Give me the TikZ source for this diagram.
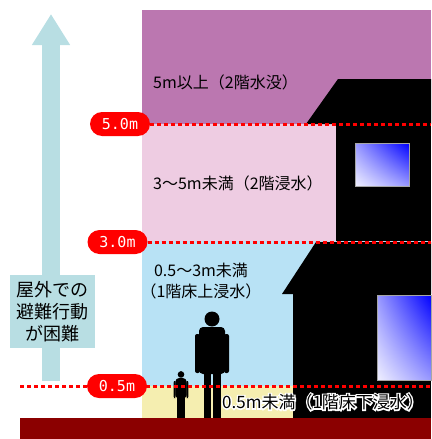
\documentclass[tikz,border=0pt]{standalone}
\usepackage{fontspec}
\setmainfont{Noto Sans CJK JP}
\newfontfamily\monofont{DejaVu Sans Mono}
\usetikzlibrary{arrows.meta,shadings}

\definecolor{bandtop}{RGB}{187,119,176}
\definecolor{bandhigh}{RGB}{238,204,226}
\definecolor{bandmid}{RGB}{184,226,245}
\definecolor{bandlow}{RGB}{245,238,176}
\definecolor{groundred}{RGB}{139,0,0}
\definecolor{arrowblue}{RGB}{184,222,227}

% stroked white outline behind a label
\newcommand\outlined[1]{\special{pdf:literal direct 1 Tr 2.8 w 1 1 1 RG}#1\special{pdf:literal direct 0 Tr}}

\begin{document}
\begin{tikzpicture}[
    x=1pt, y=-1pt,
    level/.style={
        red,
        line width=3pt,
        dash pattern=on 4pt off 3pt
    },
    tag/.style={
        fill=red,
        text=white,
        rounded corners=12pt,
        minimum width=60pt,
        minimum height=24pt,
        inner sep=0pt,
        font=\monofont\fontsize{15}{15}\selectfont
    },
    bandtext/.style={
        anchor=west,
        inner sep=0pt,
        font=\fontsize{16}{21}\selectfont
    },
    lowtext/.style={
        anchor=west,
        inner sep=0pt,
        font=\fontsize{17}{20}\selectfont
    },
    notebox/.style={
        fill=arrowblue,
        align=center,
        minimum width=85pt,
        minimum height=73pt,
        inner sep=0pt,
        font=\fontsize{18}{22}\selectfont
    },
    rise/.style={
        arrowblue,
        line width=18pt,
        -{Triangle[width=36pt,length=31pt]}
    },
    window/.style={
        draw=gray!70,
        line width=0.6pt,
        upper right=blue,
        upper left=blue!40!white,
        lower right=blue!40!white,
        lower left=blue!6!white
    },
    pics/person/.style={code={
        \fill (0,-99) circle (7.5);
        \fill[rounded corners=4pt] (-13,-91) rectangle (13,-44);
        \fill[rounded corners=2pt] (-17,-84) rectangle (-12,-45);
        \fill[rounded corners=2pt] (12,-84) rectangle (17,-45);
        \fill (-8.5,-50) rectangle (-1,0);
        \fill (1,-50) rectangle (8.5,0);
    }}
]
\useasboundingbox (0,0) rectangle (431,439);

% water depth bands
\fill[bandtop] (142,10) rectangle (431,124);
\fill[bandhigh] (142,124) rectangle (431,241);
\fill[bandmid] (142,241) rectangle (431,386);
\fill[bandlow] (142,386) rectangle (431,418);

% house silhouette
\fill (306,124) -- (338,79) -- (431,79) -- (431,124) -- cycle;
\fill (336,124) rectangle (431,241);
\fill (282,294) -- (316,242) -- (431,242) -- (431,294) -- cycle;
\fill (293,294) rectangle (431,418);
\shade[window] (355,143) rectangle (409,186);
\shade[window] (377,295) rectangle (431,380);

% people
\pic at (212,418) {person};
\pic[scale=0.44] at (181,418) {person};

% escape arrow
\coordinate (arrow-foot) at (51,381);
\coordinate (arrow-tip) at (51,14);
\draw[rise] (arrow-foot) -- (arrow-tip);
\node[notebox] (note) at (52.5,311.5) {屋外での\\避難行動\\が困難};

% depth marks
\coordinate (lv50-r) at (431,124);
\coordinate (lv30-r) at (431,242);
\coordinate (lv05-l) at (20,386);
\coordinate (lv05-r) at (431,386);
\node[tag] (lv50) at (120,124) {5.0m};
\node[tag] (lv30) at (117.5,242) {3.0m};
\draw[level] (lv50.east) -- (lv50-r);
\draw[level] (lv30.east) -- (lv30-r);
\draw[level] (lv05-l) -- (lv05-r);
\node[tag] (lv05) at (117,386) {0.5m};

% band labels
\node[bandtext] (txt-top) at (153,82) {5m以上（2階水没）};
\node[bandtext] (txt-high) at (153,183) {3～5m未満（2階浸水）};
\node[bandtext, anchor=center, align=center] (txt-mid) at (201,281) {0.5～3m未満\\（1階床上浸水）};
\node[lowtext] (txt-low-halo) at (222,402) {\outlined{0.5m未満（1階床下浸水）}};
\node[lowtext] (txt-low) at (222,402) {0.5m未満（1階床下浸水）};

% ground
\fill[groundred] (20,418) rectangle (431,439);
\end{tikzpicture}
\end{document}
